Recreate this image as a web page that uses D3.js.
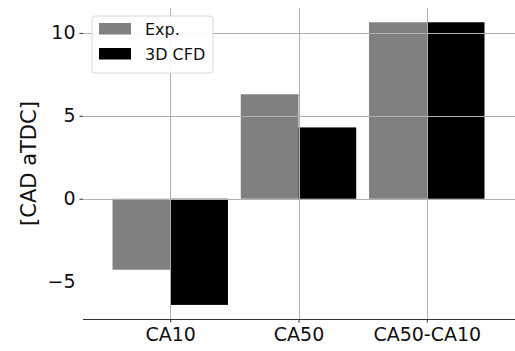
<!DOCTYPE html>
<html>
<head>
<meta charset="utf-8">
<script src="https://cdn.jsdelivr.net/npm/d3@7/dist/d3.min.js"></script>
<style>
  html, body { margin: 0; padding: 0; background: #fff; }
  svg { display: block; font-family: "DejaVu Sans", sans-serif; }
</style>
</head>
<body>
<svg id="chart" width="515" height="351"></svg>
<script>
const categories = ["CA10", "CA50", "CA50-CA10"];
const seriesNames = ["Exp.", "3D CFD"];
const expValues = [-4.28, 6.3, 10.64];
const cfdValues = [-6.4, 4.3, 10.64];
const yTickValues = [-5, 0, 5, 10];
const yGridValues = [0, 5, 10];
const colors = ["#808080", "#000000"];

const svg = d3.select("#chart");
const mLeft = 83, mRight = 514, mTop = 8, mBottom = 319;

const x = d3.scalePoint().domain(categories).range([mLeft, mRight]).padding(0.68);
const step = x.step();
const barW = 0.45 * step;
const y = d3.scaleLinear().domain([-7.25, 11.5]).range([mBottom, mTop]);

const series = [expValues, cfdValues];

// bars
series.forEach((vals, si) => {
  svg.append("g").selectAll("rect")
    .data(categories.map((c, i) => ({ c, v: vals[i] })))
    .join("rect")
    .attr("x", d => x(d.c) + (si === 0 ? -barW : 0))
    .attr("width", barW)
    .attr("y", d => y(Math.max(0, d.v)))
    .attr("height", d => Math.abs(y(d.v) - y(0)))
    .attr("fill", colors[si]);
});

// grid (above bars)
const grid = svg.append("g").attr("stroke", "#b0b0b0").attr("stroke-width", 1);
grid.selectAll("line.h").data(yGridValues).join("line")
  .attr("class", "h")
  .attr("x1", mLeft).attr("x2", 515)
  .attr("y1", d => Math.round(y(d)) + 0.5).attr("y2", d => Math.round(y(d)) + 0.5);
grid.selectAll("line.v").data(categories).join("line")
  .attr("class", "v")
  .attr("x1", d => Math.round(x(d)) + 0.5).attr("x2", d => Math.round(x(d)) + 0.5)
  .attr("y1", mTop).attr("y2", mBottom);

// y axis (no spine)
const yAxis = d3.axisLeft(y).tickValues(yTickValues).tickSize(3.5).tickPadding(4)
  .tickFormat(d => d < 0 ? "\u2212" + Math.abs(d) : String(d));
const gy = svg.append("g").attr("transform", `translate(${mLeft},0)`).call(yAxis);
gy.select(".domain").remove();
gy.selectAll(".tick line").attr("stroke", "#333").attr("stroke-opacity", d => d === -5 ? 0 : 1);
gy.selectAll(".tick text").attr("font-size", 19).attr("fill", "#111")
  .attr("font-family", "DejaVu Sans, sans-serif");

// x axis
const xAxis = d3.axisBottom(x).tickSize(3.5).tickPadding(5);
const gx = svg.append("g").attr("transform", `translate(0,${mBottom})`).call(xAxis);
gx.select(".domain").attr("d", `M${mLeft},0.5H515`).attr("stroke", "#333");
gx.selectAll(".tick line").attr("stroke", "#333");
gx.selectAll(".tick text").attr("font-size", 19).attr("fill", "#111")
  .attr("font-family", "DejaVu Sans, sans-serif");

// y label
svg.append("text")
  .attr("transform", `translate(36,${(mTop + mBottom) / 2}) rotate(-90)`)
  .attr("text-anchor", "middle")
  .attr("font-size", 21)
  .attr("fill", "#111")
  .text("[CAD aTDC]");

// legend
const lg = svg.append("g").attr("transform", "translate(92,16)");
lg.append("rect").attr("width", 121).attr("height", 57).attr("rx", 3)
  .attr("fill", "#fff").attr("fill-opacity", 0.9)
  .attr("stroke", "#d8d8d8");
seriesNames.forEach((n, i) => {
  lg.append("rect").attr("x", 7).attr("y", 7 + i * 25).attr("width", 32).attr("height", 11.5)
    .attr("fill", colors[i]);
  lg.append("text").attr("x", 53).attr("y", 19 + i * 25)
    .attr("font-size", 16).attr("fill", "#111").text(n);
});
</script>
</body>
</html>
